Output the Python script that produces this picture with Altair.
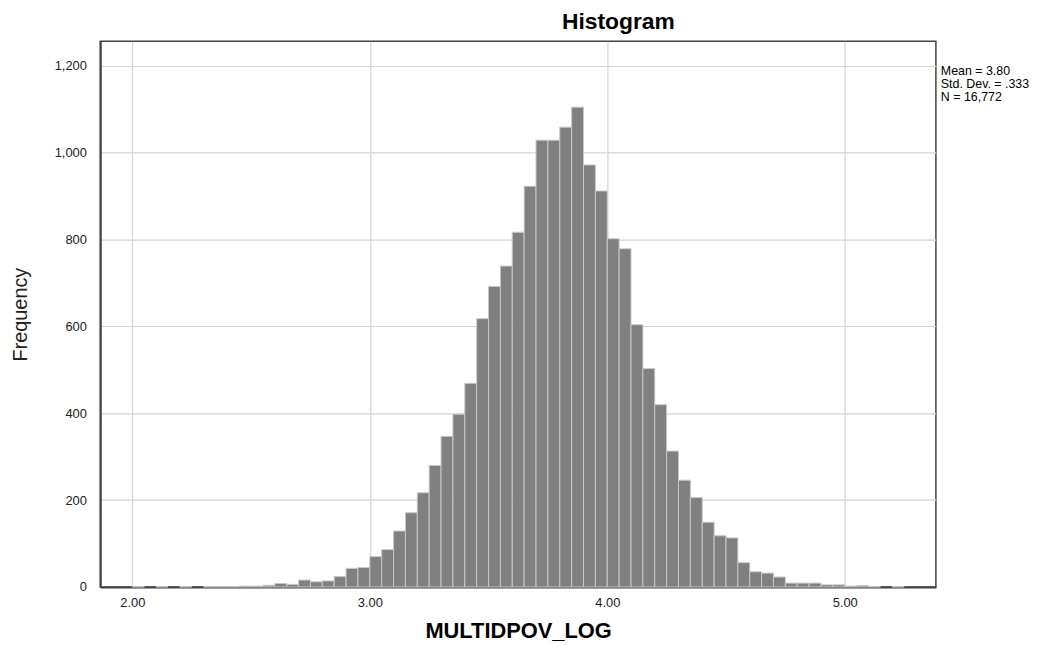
import altair as alt
import pandas as pd

bin_start = [2.00, 2.05, 2.10, 2.15, 2.20, 2.25, 2.30, 2.35, 2.40, 2.45,
             2.50, 2.55, 2.60, 2.65, 2.70, 2.75, 2.80, 2.85, 2.90, 2.95,
             3.00, 3.05, 3.10, 3.15, 3.20, 3.25, 3.30, 3.35, 3.40, 3.45,
             3.50, 3.55, 3.60, 3.65, 3.70, 3.75, 3.80, 3.85, 3.90, 3.95,
             4.00, 4.05, 4.10, 4.15, 4.20, 4.25, 4.30, 4.35, 4.40, 4.45,
             4.50, 4.55, 4.60, 4.65, 4.70, 4.75, 4.80, 4.85, 4.90, 4.95,
             5.00, 5.05, 5.10, 5.15, 5.20]
counts = [1, 0, 1, 0, 1, 0, 1, 1, 1, 2,
          2, 4, 8, 6, 16, 12, 14, 24, 43, 45,
          70, 86, 129, 171, 217, 280, 347, 398, 469, 618,
          692, 739, 817, 923, 1029, 1029, 1059, 1105, 972, 912,
          802, 779, 604, 503, 420, 313, 246, 206, 149, 118,
          113, 56, 35, 32, 23, 9, 9, 9, 5, 5,
          2, 3, 1, 0, 1]
bin_width = 0.05
x_ticks = [2.0, 3.0, 4.0, 5.0]
y_ticks = [0, 200, 400, 600, 800, 1000, 1200]
stats_lines = ["Mean = 3.80", "Std. Dev. = .333", "N = 16,772"]

df = pd.DataFrame({"start": bin_start, "count": counts})
df["end"] = df["start"] + bin_width
df = df[df["count"] > 0]

FONT = "Liberation Sans"
W, H = 842, 550

bars = alt.Chart(df).mark_bar(
    color="#808080", stroke="#c8c8c8", strokeWidth=1
).encode(
    x=alt.X("start:Q",
            scale=alt.Scale(domain=[1.865, 5.384], nice=False, zero=False),
            axis=alt.Axis(values=x_ticks, format=".2f", title="MULTIDPOV_LOG",
                          titleFontSize=22, titleFontWeight="bold", titleFont=FONT,
                          titleColor="#000000", titlePadding=11,
                          labelFont=FONT, labelFontSize=13, labelColor="#222222",
                          labelPadding=10, labelFlush=False,
                          grid=True, gridColor="#d4d4d4", gridWidth=1.2,
                          ticks=False, domainColor="#444444", domainWidth=2)),
    x2="end:Q",
    y=alt.Y("count:Q",
            scale=alt.Scale(domain=[0, 1257], nice=False),
            axis=alt.Axis(values=y_ticks, format=",d", title="Frequency",
                          titleFontSize=20, titleFontWeight="normal", titleFont=FONT,
                          titleColor="#222222", titlePadding=24,
                          labelFont=FONT, labelFontSize=13, labelColor="#222222",
                          labelPadding=14,
                          grid=True, gridColor="#d4d4d4", gridWidth=1.2,
                          ticks=False, domainColor="#444444", domainWidth=2)),
    y2=alt.datum(0),
)

stats = alt.Chart(pd.DataFrame({"t": [stats_lines]})).mark_text(
    align="left", baseline="top", font=FONT, fontSize=12.5, color="#000000",
    lineHeight=13
).encode(
    text="t",
    x=alt.value(847),
    y=alt.value(24),
)

chart = alt.layer(bars, stats).properties(
    width=W, height=H,
    title=alt.TitleParams("Histogram", font=FONT, fontSize=23, fontWeight="bold",
                          color="#000000", anchor="middle", dx=101, offset=7),
    padding={"left": 93, "top": 31, "right": 118, "bottom": 57},
    autosize=alt.AutoSizeParams(type="none"),
).configure_view(
    stroke="#444444", strokeWidth=1.5
)

chart.save("out.html", embed_options={"renderer": "svg", "actions": False})
